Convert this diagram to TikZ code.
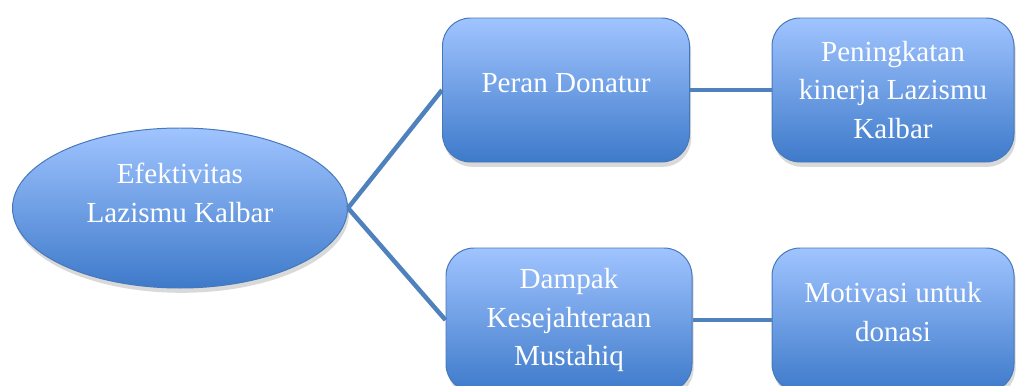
\documentclass[tikz,border=0pt]{standalone}
\usepackage{fontspec}
\setmainfont{Liberation Serif}
\usepackage{xcolor}
\usepackage{tikz}
\usetikzlibrary{positioning,shapes.geometric,shadows}

\definecolor{boxtop}{RGB}{160,196,255}
\definecolor{boxbot}{RGB}{62,122,202}
\definecolor{boxline}{RGB}{70,120,185}
\definecolor{linkblue}{RGB}{79,129,189}

\begin{document}
\begin{tikzpicture}[x=0.25mm,y=-0.25mm,
    box/.style={rectangle,rounded corners=7mm,draw=boxline,line width=0.7pt,
      top color=boxtop,bottom color=boxbot,text=white,align=center,
      minimum height=36mm,inner sep=1mm,
      drop shadow={shadow xshift=0.4mm,shadow yshift=-1.2mm,opacity=0.3},
      font=\fontsize{20.7}{27.6}\selectfont},
    oval/.style={ellipse,draw=boxline,line width=0.7pt,
      top color=boxtop,bottom color=boxbot,text=white,align=center,
      minimum width=83.75mm,minimum height=40mm,inner sep=0pt,
      drop shadow={shadow xshift=0.4mm,shadow yshift=-1.2mm,opacity=0.3},
      font=\fontsize{20.7}{27.6}\selectfont},
    link/.style={draw=linkblue,line width=3.2pt}]

    \useasboundingbox (0,0) rectangle (1016,385);
    \clip (0,0) rectangle (1016,385);

    % The map
    \node [oval] at (180,208) (eff) {Efektivitas\\Lazismu Kalbar\\[-2.2mm]};
    \node [box,minimum width=61.75mm] at (566,90) (peran) {Peran Donatur\\[-6mm]};
    \node [box,minimum width=60.5mm] at (893,90) (ningkat) {Peningkatan\\kinerja Lazismu\\Kalbar};
    \node [box,minimum width=61.5mm] at (569,320) (dampak) {Dampak\\Kesejahteraan\\Mustahiq};
    \node [box,minimum width=60.5mm] at (893,320) (motiv) {Motivasi untuk\\donasi\\[-5.7mm]};

    % Map branches
    \path[link]
    (eff.east) edge (peran.west)
    (eff.east) edge (dampak.west)
    (peran) edge (ningkat)
    (dampak) edge (motiv);
\end{tikzpicture}
\end{document}
